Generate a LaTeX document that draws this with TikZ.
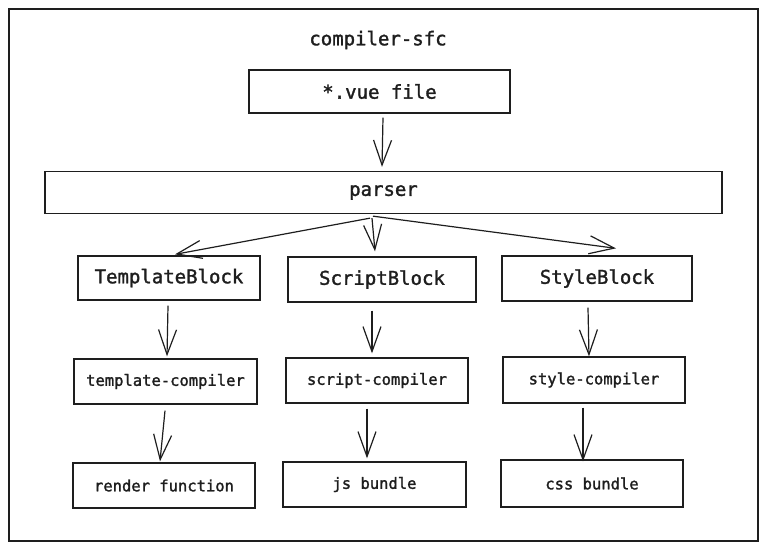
\documentclass[tikz,border=0pt]{standalone}
\usepackage{fontspec}
\setmonofont[FakeBold=1.6,AutoFakeBold=1.6]{DejaVu Sans Mono}
\usetikzlibrary{arrows.meta}
\definecolor{ink}{HTML}{1E1E1E}
\tikzset{
  box/.style={draw=ink, line width=1.3pt, rectangle, inner sep=0pt, text=ink, font=\ttfamily\bfseries\fontsize{19}{22}\selectfont},
  smallbox/.style={box, font=\ttfamily\bfseries\fontsize{15.5}{18}\selectfont},
  flow/.style={draw=ink, line width=1.2pt, -{Straight Barb[length=25pt,width=18pt,line width=1.2pt]}},
}
\begin{document}
\begin{tikzpicture}[x=1pt,y=-1pt]
\useasboundingbox (0,0) rectangle (769,552);
\draw[draw=ink, line width=1.3pt] (9,9) rectangle (758,541);
\node[text=ink, font=\ttfamily\bfseries\fontsize{19}{22}\selectfont] (title) at (378,40) {compiler-sfc};

\node[box, minimum width=261pt, minimum height=43pt] (vue) at (379.5,91.5) {*.vue file};
\node[box, minimum width=677pt, minimum height=42pt] (parser) at (383.5,192.5) {parser};

\node[box, minimum width=182pt, minimum height=44pt] (tb) at (169,278) {TemplateBlock};
\node[box, minimum width=188pt, minimum height=45pt] (sb) at (382,279.5) {ScriptBlock};
\node[box, minimum width=190pt, minimum height=45pt] (stb) at (597,278.5) {StyleBlock};

\node[smallbox, minimum width=183pt, minimum height=45pt] (tc) at (165.5,381.5) {template-compiler};
\node[smallbox, minimum width=182pt, minimum height=45pt] (sc) at (377,380.5) {script-compiler};
\node[smallbox, minimum width=182pt, minimum height=46pt] (stc) at (594,380) {style-compiler};

\node[smallbox, minimum width=182pt, minimum height=45pt] (rf) at (164,485.5) {render function};
\node[smallbox, minimum width=183pt, minimum height=45pt] (js) at (374.5,484.5) {js bundle};
\node[smallbox, minimum width=182pt, minimum height=47pt] (css) at (592,483.5) {css bundle};

\draw[flow] ([xshift=3.5pt,yshift=-4pt]vue.south) -- ([xshift=-1.5pt,yshift=4pt]parser.north);
\draw[flow] ([xshift=-13.5pt,yshift=-4pt]parser.south) -- ([xshift=6pt,yshift=1pt]tb.north);
\draw[flow] ([xshift=-11.5pt,yshift=-4pt]parser.south) -- ([xshift=-7pt,yshift=5pt]sb.north);
\draw[flow] ([xshift=-10.5pt,yshift=-2pt]parser.south) -- ([xshift=19pt,yshift=7pt]stb.north);
\draw[flow] ([xshift=-1pt,yshift=-5pt]tb.south) -- ([xshift=1.5pt,yshift=2pt]tc.north);
\draw[flow] ([xshift=-10pt,yshift=-8pt]sb.south) -- ([xshift=-5pt,yshift=4pt]sc.north);
\draw[flow] ([xshift=-9pt,yshift=-6pt]stb.south) -- ([xshift=-5pt,yshift=0pt]stc.north);
\draw[flow] ([xshift=-0.5pt,yshift=-6pt]tc.south) -- ([xshift=-4pt,yshift=1pt]rf.north);
\draw[flow] ([xshift=-10pt,yshift=-5pt]sc.south) -- ([xshift=-7.5pt,yshift=3pt]js.north);
\draw[flow] ([xshift=-11pt,yshift=-4pt]stc.south) -- ([xshift=-9pt,yshift=-2pt]css.north);
\end{tikzpicture}
\end{document}
